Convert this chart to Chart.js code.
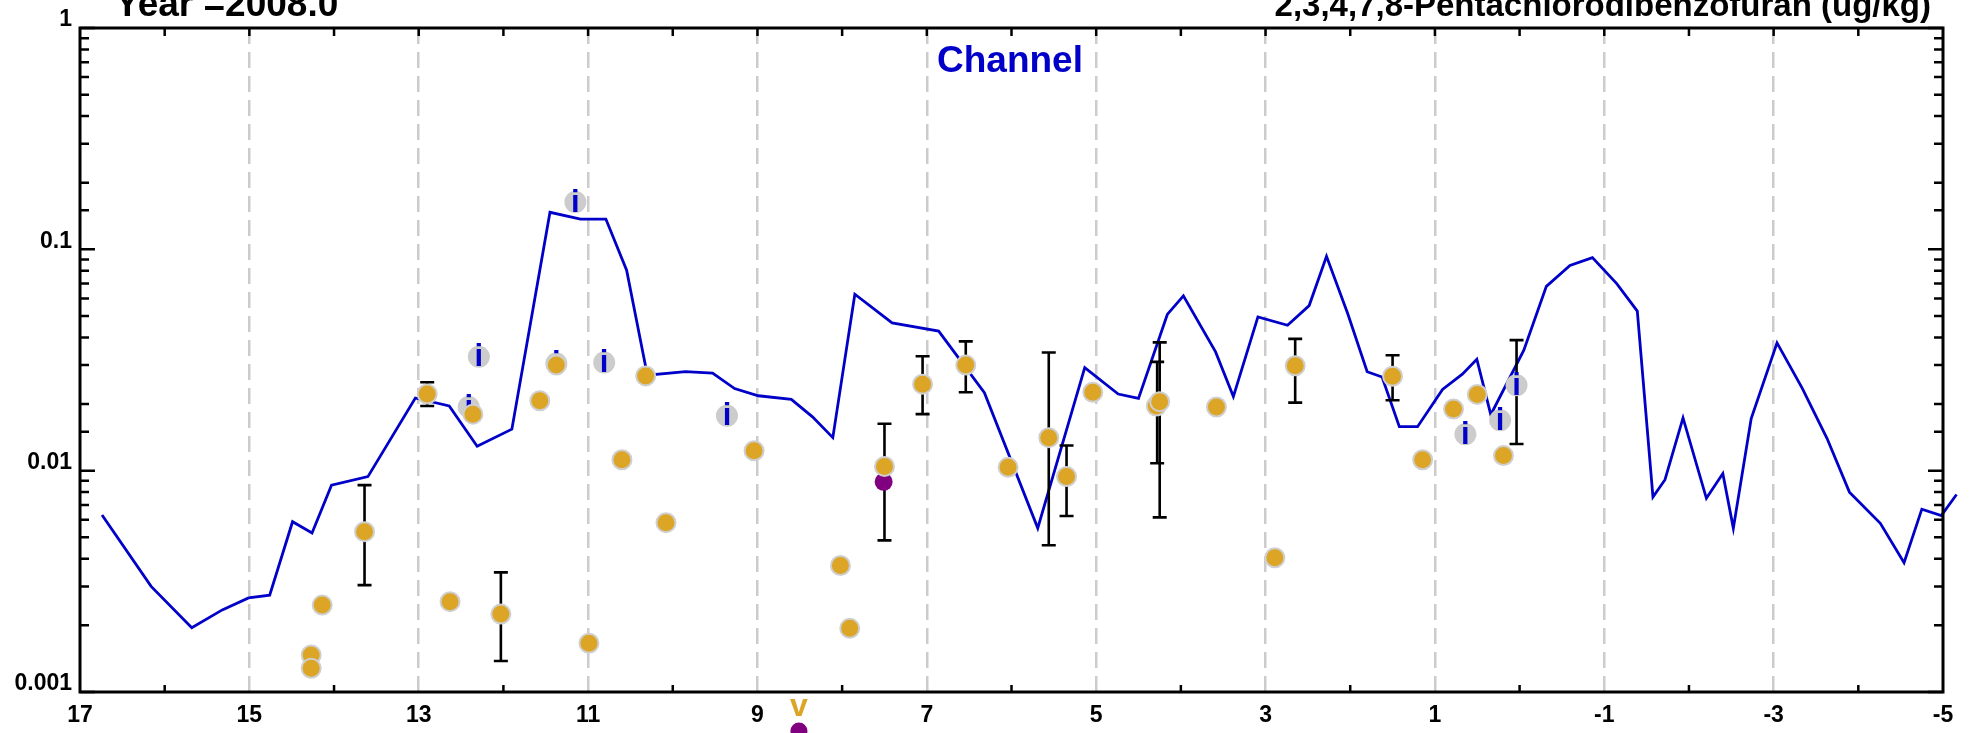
<!DOCTYPE html>
<html>
<head>
<meta charset="utf-8">
<script src="https://cdn.jsdelivr.net/npm/chart.js@4.4.1/dist/chart.umd.min.js"></script>
<style>
  html, body { margin: 0; padding: 0; background: #fff; }
</style>
</head>
<body>
<canvas id="chart" width="1969" height="733"></canvas>
<script>
// Channel (model line)
const lineX = [16.74, 16.16, 15.68, 15.32, 15.01, 14.76, 14.49, 14.26, 14.03, 13.60, 13.04, 12.64, 12.31, 11.90, 11.45, 11.09, 10.79, 10.545, 10.30, 9.85, 9.53, 9.27, 8.99, 8.60, 8.35, 8.11, 7.85, 7.41, 6.86, 6.32, 5.69, 5.135, 4.74, 4.50, 4.16, 3.97, 3.59, 3.38, 3.09, 2.74, 2.485, 2.28, 2.03, 1.80, 1.624, 1.42, 1.205, 0.91, 0.676, 0.505, 0.34, -0.05, -0.316, -0.595, -0.86, -1.147, -1.39, -1.575, -1.717, -1.93, -2.206, -2.40, -2.524, -2.735, -3.04, -3.34, -3.63, -3.895, -4.26, -4.54, -4.75, -4.98, -5.16];
const lineY = [0.0063, 0.0030, 0.00195, 0.00235, 0.00266, 0.00274, 0.00588, 0.00523, 0.0086, 0.0094, 0.0213, 0.0196, 0.0129, 0.0154, 0.147, 0.137, 0.137, 0.0805, 0.027, 0.028, 0.0276, 0.0235, 0.0218, 0.021, 0.0175, 0.0141, 0.0627, 0.0465, 0.0427, 0.0225, 0.0055, 0.0292, 0.0222, 0.0212, 0.0508, 0.0616, 0.0344, 0.0216, 0.0495, 0.0454, 0.0557, 0.093, 0.0513, 0.028, 0.0265, 0.0158, 0.0158, 0.0233, 0.0273, 0.0319, 0.0179, 0.035, 0.068, 0.0845, 0.0918, 0.070, 0.0526, 0.0076, 0.0091, 0.0173, 0.0075, 0.0097, 0.0055, 0.0172, 0.0378, 0.0235, 0.014, 0.0080, 0.00578, 0.00384, 0.0067, 0.00626, 0.0078];

// observations (orange)
const obsX = [14.27, 14.27, 14.14, 13.64, 12.90, 12.36, 12.63, 12.03, 11.57, 11.375, 10.99, 10.60, 10.32, 10.08, 9.04, 8.02, 7.91, 7.50, 7.05, 6.54, 6.04, 5.56, 5.35, 5.04, 4.29, 4.25, 3.58, 2.89, 2.65, 1.50, 1.145, 0.78, 0.50, 0.19];
const obsY = [0.00147, 0.00128, 0.00247, 0.0053, 0.0222, 0.0180, 0.00256, 0.00225, 0.0207, 0.030, 0.00166, 0.0112, 0.0268, 0.00582, 0.0123, 0.00373, 0.00194, 0.01045, 0.0246, 0.030, 0.01035, 0.0141, 0.0094, 0.0226, 0.0196, 0.0205, 0.0194, 0.00404, 0.0298, 0.0267, 0.0112, 0.019, 0.0221, 0.0117];

// flagged observations (grey "i")
const flagX = [12.41, 12.29, 11.375, 11.15, 10.81, 9.36, 0.64, 0.23, 0.036];
const flagY = [0.0194, 0.0327, 0.0305, 0.1637, 0.0308, 0.0177, 0.0146, 0.0169, 0.0243];

// other samples (purple)
const purpleX = [7.51];
const purpleY = [0.0089];

// below range marker
const belowX = [8.51];

// error bars
const errX  = [13.64, 12.90, 12.03, 7.50, 7.05, 6.54, 5.56, 5.35, 4.28, 4.25, 2.65, 1.50, 0.036];
const errLo = [0.00304, 0.0196, 0.00138, 0.00484, 0.018, 0.0226, 0.0046, 0.00624, 0.0108, 0.00615, 0.0203, 0.0208, 0.0132];
const errHi = [0.0086, 0.0251, 0.00347, 0.0163, 0.0329, 0.0384, 0.0342, 0.013, 0.031, 0.038, 0.0394, 0.0332, 0.0389];

const xTicks = [17, 15, 13, 11, 9, 7, 5, 3, 1, -1, -3, -5];

const FONT = '"Liberation Sans", Arial, Helvetica, sans-serif';
const BLUE = '#0000c8';
const ORANGE = '#dca526';

function pts(xa, ya) {
  return xa.map((x, i) => ({x: x, y: ya[i]}));
}
function isPow10(v) {
  const l = Math.log10(v);
  return Math.abs(l - Math.round(l)) < 1e-9;
}

const decor = {
  id: 'decor',
  afterDatasetDraw(chart, args) {
    const ctx = chart.ctx, xs = chart.scales.x, ys = chart.scales.y;
    if (args.index === 0) {
      ctx.save();
      ctx.strokeStyle = '#000';
      ctx.lineWidth = 2.6;
      for (let i = 0; i < errX.length; i++) {
        const px = xs.getPixelForValue(errX[i]);
        const pt = ys.getPixelForValue(errHi[i]);
        const pb = ys.getPixelForValue(errLo[i]);
        ctx.beginPath();
        ctx.moveTo(px, pt); ctx.lineTo(px, pb);
        ctx.moveTo(px - 7, pt); ctx.lineTo(px + 7, pt);
        ctx.moveTo(px - 7, pb); ctx.lineTo(px + 7, pb);
        ctx.stroke();
      }
      ctx.restore();
    }
    if (args.index === 1) {
      ctx.save();
      ctx.fillStyle = BLUE;
      ctx.font = 'bold 31px ' + FONT;
      ctx.textAlign = 'center';
      ctx.textBaseline = 'middle';
      for (let i = 0; i < flagX.length; i++) {
        ctx.fillText('i', xs.getPixelForValue(flagX[i]), ys.getPixelForValue(flagY[i]) + 1);
      }
      ctx.restore();
    }
  },
  afterDraw(chart) {
    const ctx = chart.ctx, a = chart.chartArea, xs = chart.scales.x, ys = chart.scales.y;
    ctx.save();
    // tick marks
    ctx.strokeStyle = '#000';
    ctx.lineWidth = 2.5;
    ctx.beginPath();
    ys.ticks.forEach(t => {
      const py = ys.getPixelForValue(t.value);
      const len = isPow10(t.value) ? 15 : 9;
      ctx.moveTo(a.left, py); ctx.lineTo(a.left + len, py);
      ctx.moveTo(a.right, py); ctx.lineTo(a.right - len, py);
    });
    xs.ticks.forEach(t => {
      if (t.value === 17 || t.value === -5) return;
      const px = xs.getPixelForValue(t.value);
      ctx.moveTo(px, a.top); ctx.lineTo(px, a.top + 8);
      if (t.value % 2 === 0) { ctx.moveTo(px, a.bottom); ctx.lineTo(px, a.bottom - 7); }
    });
    ctx.stroke();
    // frame
    ctx.lineWidth = 3;
    ctx.strokeRect(a.left, a.top, a.right - a.left, a.bottom - a.top);

    // titles
    ctx.fillStyle = '#000';
    ctx.textBaseline = 'alphabetic';
    ctx.font = 'bold 37px ' + FONT;
    ctx.textAlign = 'left';
    ctx.fillText('Year =2008.0', 115, 16);
    ctx.font = 'bold 33px ' + FONT;
    ctx.textAlign = 'right';
    ctx.fillText('2,3,4,7,8-Pentachlorodibenzofuran (ug/kg)', 1931, 16);

    // legend
    ctx.fillStyle = BLUE;
    ctx.font = 'bold 37px ' + FONT;
    ctx.textAlign = 'center';
    ctx.fillText(chart.data.datasets[0].label, 1010, 72);

    // below-range marker
    belowX.forEach(v => {
      const px = xs.getPixelForValue(v);
      ctx.fillStyle = ORANGE;
      ctx.font = 'bold 32px ' + FONT;
      ctx.textAlign = 'center';
      ctx.textBaseline = 'middle';
      ctx.fillText('v', px, 707);
      ctx.fillStyle = '#800080';
      ctx.beginPath();
      ctx.arc(px, 731, 8.5, 0, Math.PI * 2);
      ctx.fill();
    });
    ctx.restore();
  }
};

new Chart(document.getElementById('chart'), {
  type: 'scatter',
  data: {
    datasets: [
      {
        label: 'Channel',
        data: pts(lineX, lineY),
        showLine: true,
        borderColor: BLUE,
        borderWidth: 2.8,
        pointRadius: 0,
        tension: 0,
        clip: false,
        order: 4
      },
      {
        label: 'flagged',
        data: pts(flagX, flagY),
        backgroundColor: '#cccccc',
        borderColor: '#cccccc',
        borderWidth: 0,
        pointRadius: 11,
        order: 3
      },
      {
        label: 'other',
        data: pts(purpleX, purpleY),
        backgroundColor: '#800080',
        borderColor: '#800080',
        borderWidth: 0,
        pointRadius: 9,
        order: 2
      },
      {
        label: 'observed',
        data: pts(obsX, obsY),
        backgroundColor: ORANGE,
        borderColor: '#cfcfcf',
        borderWidth: 2,
        pointRadius: 9.5,
        order: 1
      }
    ]
  },
  options: {
    responsive: false,
    animation: false,
    devicePixelRatio: 1,
    layout: { padding: { top: 28, right: 26, left: 0, bottom: 0 } },
    plugins: { legend: { display: false }, tooltip: { enabled: false } },
    scales: {
      x: {
        type: 'linear',
        reverse: true,
        min: -5,
        max: 17,
        afterFit: s => { s.height = 41; },
        afterBuildTicks: s => {
          const t = [];
          for (let v = 17; v >= -5; v--) t.push({value: v});
          s.ticks = t;
        },
        ticks: {
          autoSkip: false,
          maxRotation: 0,
          padding: 10,
          color: '#000',
          font: { family: FONT, size: 23, weight: 'bold' },
          callback: v => (xTicks.includes(v) ? String(v) : '')
        },
        grid: {
          drawTicks: false,
          lineWidth: 2.5,
          color: c => (c.tick && xTicks.includes(c.tick.value) && c.tick.value !== 17 && c.tick.value !== -5) ? '#cccccc' : 'rgba(0,0,0,0)'
        },
        border: { display: false, dash: [16, 8] }
      },
      y: {
        type: 'logarithmic',
        min: 0.001,
        max: 1,
        afterFit: s => { s.width = 80; },
        ticks: {
          autoSkip: false,
          padding: 8,
          labelOffset: -8,
          color: '#000',
          font: { family: FONT, size: 23, weight: 'bold' },
          callback: v => (isPow10(v) ? String(v) : '')
        },
        grid: { display: false, drawTicks: false },
        border: { display: false }
      }
    }
  },
  plugins: [decor]
});
</script>
</body>
</html>
